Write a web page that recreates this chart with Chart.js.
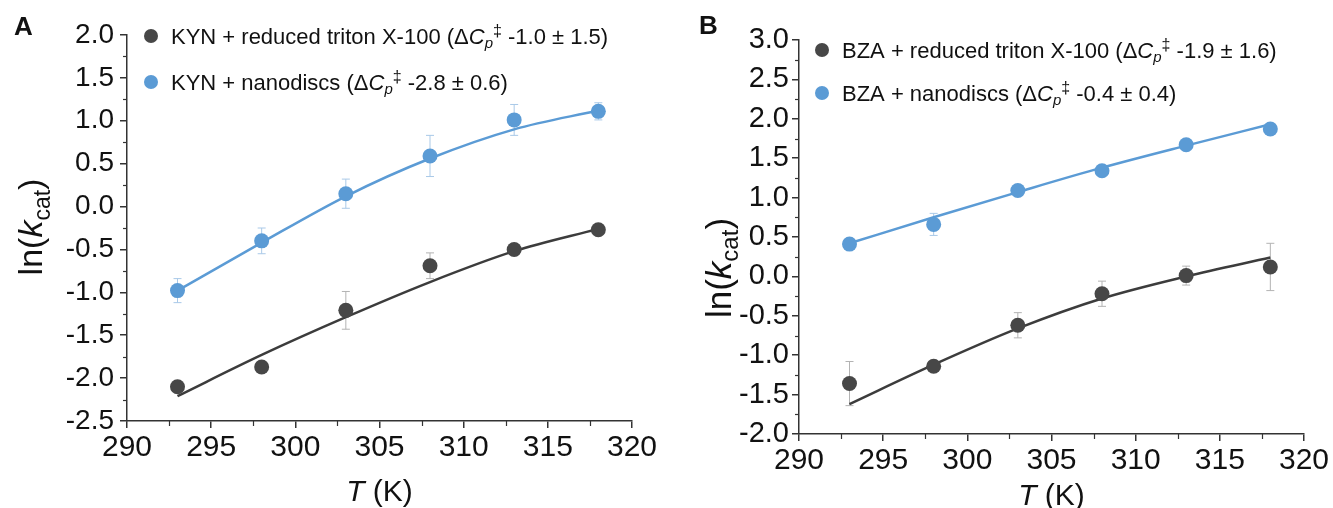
<!DOCTYPE html>
<html>
<head>
<meta charset="utf-8">
<script src="https://cdn.jsdelivr.net/npm/chart.js@4.4.1/dist/chart.umd.min.js"></script>
<style>
  body { margin: 0; background: #fff; }
  canvas { position: absolute; top: 0; }
  #chartA { left: 0; }
  #chartB { left: 666px; }
</style>
</head>
<body>
<canvas id="chartA" width="666" height="508"></canvas>
<canvas id="chartB" width="667" height="508"></canvas>
<script>
// Temperatures (K) used in both panels
const temps = [293, 298, 303, 308, 313, 318];

// Panel A - KYN
const kynTritonY = [-2.10, -1.87, -1.21, -0.69, -0.50, -0.27];
const kynTritonErr = [0.03, 0.03, 0.22, 0.15, 0.03, 0.03];
const kynTritonFit = [-2.21, -1.73, -1.29, -0.88, -0.52, -0.26];
const kynNanoY = [-0.98, -0.40, 0.15, 0.59, 1.01, 1.11];
const kynNanoErr = [0.14, 0.15, 0.17, 0.24, 0.18, 0.10];
const kynNanoFit = [-0.98, -0.42, 0.12, 0.56, 0.90, 1.12];

// Panel B - BZA
const bzaTritonY = [-1.36, -1.14, -0.62, -0.22, 0.01, 0.12];
const bzaTritonErr = [0.28, 0.03, 0.16, 0.16, 0.12, 0.30];
const bzaTritonFit = [-1.62, -1.12, -0.66, -0.28, 0.00, 0.24];
const bzaNanoY = [0.41, 0.66, 1.09, 1.34, 1.67, 1.87];
const bzaNanoErr = [0.03, 0.14, 0.04, 0.04, 0.04, 0.05];
const bzaNanoFit = [0.42, 0.75, 1.07, 1.38, 1.66, 1.93];

// Axis ranges and ticks
const xTicks = [290, 295, 300, 305, 310, 315, 320];
const yTicksA = [-2.5, -2.0, -1.5, -1.0, -0.5, 0.0, 0.5, 1.0, 1.5, 2.0];
const yTicksB = [-2.0, -1.5, -1.0, -0.5, 0.0, 0.5, 1.0, 1.5, 2.0, 2.5, 3.0];

// Legend labels (parts: before, delta-Cp, after)
const legendA = [
  ['KYN + reduced triton X-100 (', ' -1.0 \u00b1 1.5)'],
  ['KYN + nanodiscs (', ' -2.8 \u00b1 0.6)']
];
const legendB = [
  ['BZA + reduced triton X-100 (', ' -1.9 \u00b1 1.6)'],
  ['BZA + nanodiscs (', ' -0.4 \u00b1 0.4)']
];

const GREY = '#474747';
const BLUE = '#5b9bd5';
const FONT = '"Liberation Sans", Arial, sans-serif';

function pts(ys) {
  return temps.map((t, i) => ({ x: t, y: ys[i] }));
}

// Error bars drawn under the markers
const errorBarPlugin = {
  id: 'errorBars',
  beforeDatasetsDraw(chart) {
    const ctx = chart.ctx;
    const xs = chart.scales.x, ys = chart.scales.y;
    chart.data.datasets.forEach(ds => {
      if (!ds.errors) return;
      ctx.save();
      ctx.strokeStyle = ds.errorColor;
      ctx.lineWidth = 1;
      ds.data.forEach((p, i) => {
        const px = xs.getPixelForValue(p.x);
        const top = ys.getPixelForValue(p.y + ds.errors[i]);
        const bot = ys.getPixelForValue(p.y - ds.errors[i]);
        ctx.beginPath();
        ctx.moveTo(px, top); ctx.lineTo(px, bot);
        ctx.moveTo(px - 4, top); ctx.lineTo(px + 4, top);
        ctx.moveTo(px - 4, bot); ctx.lineTo(px + 4, bot);
        ctx.stroke();
      });
      ctx.restore();
    });
  }
};

// Draw a run of text pieces, each with its own font and vertical shift
function drawRuns(ctx, runs, x, y) {
  runs.forEach(r => {
    ctx.font = r.font;
    ctx.fillText(r.text, x, y + (r.dy || 0));
    x += ctx.measureText(r.text).width;
  });
  return x;
}
function runsWidth(ctx, runs) {
  let w = 0;
  runs.forEach(r => { ctx.font = r.font; w += ctx.measureText(r.text).width; });
  return w;
}

// Minor ticks, axis titles, legend and panel letter
function makeDecor(cfg) {
  return {
    id: 'decor' + cfg.letter,
    afterDraw(chart) {
      const ctx = chart.ctx;
      const xs = chart.scales.x, ys = chart.scales.y;
      const area = chart.chartArea;
      ctx.save();
      ctx.strokeStyle = '#333';
      ctx.lineWidth = 1.2;
      // minor ticks
      for (let v = ys.min + 0.25; v < ys.max; v += 0.5) {
        const py = Math.round(ys.getPixelForValue(v)) + 0.5;
        ctx.beginPath(); ctx.moveTo(area.left - 4, py); ctx.lineTo(area.left, py); ctx.stroke();
      }
      for (let v = xs.min + 2.5; v < xs.max; v += 5) {
        const px = Math.round(xs.getPixelForValue(v)) + 0.5;
        ctx.beginPath(); ctx.moveTo(px, area.bottom); ctx.lineTo(px, area.bottom + 5); ctx.stroke();
      }

      ctx.fillStyle = '#111';
      ctx.textBaseline = 'alphabetic';

      // panel letter
      ctx.font = 'bold 26px ' + FONT;
      ctx.fillText(cfg.letter, cfg.letterX, cfg.letterY);

      // y title: ln(k_cat)
      const fs = cfg.yTitleSize;
      const yRuns = [
        { text: 'ln(', font: fs + 'px ' + FONT },
        { text: 'k', font: 'italic ' + fs + 'px ' + FONT },
        { text: 'cat', font: Math.round(fs * 0.68) + 'px ' + FONT, dy: fs * 0.22 },
        { text: ')', font: fs + 'px ' + FONT }
      ];
      ctx.save();
      ctx.translate(cfg.yTitleX, cfg.yTitleY);
      ctx.rotate(-Math.PI / 2);
      drawRuns(ctx, yRuns, -runsWidth(ctx, yRuns) / 2, fs * 0.36);
      ctx.restore();

      // x title: T (K)
      const xRuns = [
        { text: 'T', font: 'italic 30px ' + FONT },
        { text: ' (K)', font: '30px ' + FONT }
      ];
      const cx = (area.left + area.right) / 2;
      drawRuns(ctx, xRuns, cx - runsWidth(ctx, xRuns) / 2, cfg.xTitleY);

      // legend
      const colors = [GREY, BLUE];
      cfg.legend.forEach((item, i) => {
        const ly = cfg.legendY[i];
        ctx.fillStyle = colors[i];
        ctx.beginPath();
        ctx.arc(cfg.legendX, ly, 7, 0, Math.PI * 2);
        ctx.fill();
        ctx.fillStyle = '#111';
        const runs = [
          { text: item[0], font: '22px ' + FONT },
          { text: '\u0394', font: '22px ' + FONT },
          { text: 'C', font: 'italic 22px ' + FONT },
          { text: 'p', font: 'italic 15px ' + FONT, dy: 4 },
          { text: '\u2021', font: '16px ' + FONT, dy: -8 },
          { text: item[1], font: '22px ' + FONT }
        ];
        drawRuns(ctx, runs, cfg.legendX + 20, ly + 8);
      });
      ctx.restore();
    }
  };
}

function makeChart(id, series, yTicks, layout, decor) {
  const datasets = [
    {
      data: pts(series.tritonY), errors: series.tritonErr, errorColor: '#b3b3b3',
      backgroundColor: GREY, borderColor: GREY, pointRadius: 7.5, pointBorderWidth: 0
    },
    {
      data: pts(series.nanoY), errors: series.nanoErr, errorColor: '#a9c9e8',
      backgroundColor: BLUE, borderColor: BLUE, pointRadius: 7.5, pointBorderWidth: 0
    },
    {
      data: pts(series.tritonFit), showLine: true, pointRadius: 0,
      borderColor: '#3c3c3c', borderWidth: 2.5, cubicInterpolationMode: 'monotone'
    },
    {
      data: pts(series.nanoFit), showLine: true, pointRadius: 0,
      borderColor: BLUE, borderWidth: 2.5, cubicInterpolationMode: 'monotone'
    }
  ];

  return new Chart(document.getElementById(id), {
    type: 'scatter',
    data: { datasets: datasets },
    options: {
      responsive: false,
      animation: false,
      devicePixelRatio: 1,
      layout: { padding: layout.padding },
      plugins: { legend: { display: false }, tooltip: { enabled: false } },
      scales: {
        x: {
          min: 290, max: 320,
          afterBuildTicks: s => { s.ticks = xTicks.map(v => ({ value: v })); },
          afterFit: s => { s.height = layout.xHeight; },
          border: { color: '#333', width: 1.5 },
          grid: { drawOnChartArea: false, tickLength: 7, color: '#333', lineWidth: 1.5 },
          ticks: {
            color: '#111', padding: 2, maxRotation: 0,
            font: { family: FONT, size: 30 },
            callback: v => String(v)
          }
        },
        y: {
          min: yTicks[0], max: yTicks[yTicks.length - 1],
          afterBuildTicks: s => { s.ticks = yTicks.map(v => ({ value: v })); },
          afterFit: s => { s.width = 100; },
          border: { color: '#333', width: 1.5 },
          grid: { drawOnChartArea: false, tickLength: 7, color: '#333', lineWidth: 1.5 },
          ticks: {
            color: '#111', padding: layout.yPad,
            font: { family: FONT, size: layout.yFont },
            callback: v => Number(v).toFixed(1)
          }
        }
      }
    },
    plugins: [errorBarPlugin, makeDecor(decor)]
  });
}

makeChart('chartA',
  { tritonY: kynTritonY, tritonErr: kynTritonErr, tritonFit: kynTritonFit,
    nanoY: kynNanoY, nanoErr: kynNanoErr, nanoFit: kynNanoFit },
  yTicksA,
  { padding: { left: 27, right: 34, top: 35, bottom: 27 }, xHeight: 60, yPad: 6, yFont: 28 },
  { letter: 'A', letterX: 14, letterY: 35, yTitleX: 30, yTitleY: 227, yTitleSize: 34,
    xTitleY: 501, legend: legendA, legendX: 151, legendY: [36, 82] }
);

makeChart('chartB',
  { tritonY: bzaTritonY, tritonErr: bzaTritonErr, tritonFit: bzaTritonFit,
    nanoY: bzaNanoY, nanoErr: bzaNanoErr, nanoFit: bzaNanoFit },
  yTicksB,
  { padding: { left: 33, right: 29, top: 40, bottom: 19 }, xHeight: 55, yPad: 3, yFont: 29 },
  { letter: 'B', letterX: 33, letterY: 34, yTitleX: 52, yTitleY: 268, yTitleSize: 35,
    xTitleY: 505, legend: legendB, legendX: 156, legendY: [50, 93] }
);
</script>
</body>
</html>
